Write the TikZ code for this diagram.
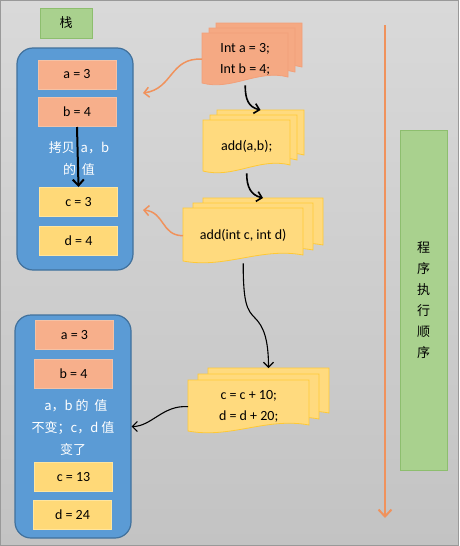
\documentclass[tikz,border=0pt]{standalone}
\usepackage{fontspec}
\setmainfont{Carlito}
\newfontfamily\cjk{Noto Sans CJK SC}
\usetikzlibrary{arrows.meta}

% colors
\definecolor{bgtop}{HTML}{D9D9D9}
\definecolor{bgbot}{HTML}{C3C3C3}
\definecolor{stackblue}{HTML}{5B9BD5}
\definecolor{stackedge}{HTML}{41719C}
\definecolor{salmon}{HTML}{F7AF8B}
\definecolor{salmonedge}{HTML}{F4C2A6}
\definecolor{docorange}{HTML}{F5A983}
\definecolor{docorangeedge}{HTML}{F2A07A}
\definecolor{yel}{HTML}{FFD978}
\definecolor{yeledge}{HTML}{FFE59E}
\definecolor{docyel}{HTML}{FFDA7E}
\definecolor{docyeledge}{HTML}{FFC935}
\definecolor{grn}{HTML}{A9D18E}
\definecolor{grnedge}{HTML}{8DBE6E}
\definecolor{flowor}{HTML}{F0925C}

% stacked document pages: name, x, y, w, h, dx, dy, colour, text
\newcommand{\docstack}[9]{%
  \foreach \i in {2,1,0}{%
    \path[docpage, fill=#8, draw=#8edge]
      ({#2+\i*#6},{#3-\i*#7}) -- ({#2+\i*#6+#4},{#3-\i*#7})
      -- ({#2+\i*#6+#4},{#3-\i*#7+#5-8})
      .. controls ({#2+\i*#6+0.65*#4},{#3-\i*#7+#5-16}) and ({#2+\i*#6+0.35*#4},{#3-\i*#7+#5+6})
      .. ({#2+\i*#6},{#3-\i*#7+#5-2}) -- cycle;
  }%
  \node[doctext, minimum width=#4, minimum height=#5, anchor=north west] (#1) at (#2,#3) {#9};
  \coordinate (#1-back) at ({#2+#4/2+2*#6},{#3-2*#7});
}

\begin{document}
\begin{tikzpicture}[x=1pt, y=-1pt]

% -------------------------------------------------------
% Layout parameters
% -------------------------------------------------------
\def\bw{78}     % width of value boxes
\def\bh{29}     % height of value boxes

\tikzstyle{stackbox} = [rounded corners=16pt, fill=stackblue, draw=stackedge, line width=1.2pt, minimum width=116, minimum height=222];
\tikzstyle{abox} = [fill=salmon, draw=salmonedge, line width=1pt, minimum width=\bw, minimum height=\bh, font=\fontsize{14}{16}\selectfont];
\tikzstyle{cbox} = [fill=yel, draw=yeledge, line width=1pt, minimum width=\bw, minimum height=\bh, font=\fontsize{14}{16}\selectfont];
\tikzstyle{note} = [text=white, align=center, font=\cjk\fontsize{13}{22}\selectfont];
\tikzstyle{docpage} = [line width=0.8pt];
\tikzstyle{doctext} = [inner sep=0pt, align=center, font=\fontsize{14}{21}\selectfont];
\tikzstyle{greenbox} = [fill=grn, draw=grnedge, line width=0.8pt, font=\cjk\fontsize{13}{21}\selectfont];
\tikzstyle{chevron} = [-{Straight Barb[length=5pt, width=10pt]}];

\useasboundingbox (0,0) rectangle (459,546);

%%%%%% BACKGROUND
\path[top color=bgtop, bottom color=bgbot, draw=gray!80] (0.5,0.5) rectangle (458.5,545.5);

%%%%%% STACK (before the call)
\node[greenbox, minimum width=52, minimum height=30] (title) at (66,23) {栈};
\node[stackbox] (stk1) at (75,159) {};
\node[abox] (a1) at (77,74.5) {a = 3};
\node[abox] (b1) at (77,112) {b = 4};
\node[cbox] (c1) at (78.5,202) {c = 3};
\node[cbox] (d1) at (78.5,241) {d = 4};
\node[note] (n1) at (79,159) {拷贝 \ a，b\\的 \ 值};
\draw[line width=2pt, -{Straight Barb[length=6pt, width=11pt]}] (b1.south) -- (c1.north);

%%%%%% STACK (after the call)
\node[stackbox, minimum height=223] (stk2) at (73,426.5) {};
\node[abox] (a2) at (74.5,335) {a = 3};
\node[abox] (b2) at (73.5,374) {b = 4};
\node[cbox] (c2) at (73.5,477) {c = 13};
\node[cbox] (d2) at (72.5,515) {d = 24};
\node[note] (n2) at (73,428) {\ \ a，b 的 \ 值\\不变；c，d 值\\变了};

%%%%%% CODE
\docstack{s1}{202}{33}{86}{52}{7}{5}{docorange}{Int a = 3;\\Int b = 4;}
\docstack{s2}{203}{120}{87}{53}{7}{5}{docyel}{add(a,b);}
\docstack{s3}{183}{208}{120}{55}{10}{5}{docyel}{add(int c, int d)}
\docstack{s4}{188}{380}{121}{53}{10}{6}{docyel}{c = c + 10;\\d = d + 20;}

%%%%%% TRANSITIONS
\coordinate (in1) at (143,93);
\coordinate (in2) at (143,210);
\draw[chevron, flowor, line width=1.5pt] (s1.west) .. controls +(-32,-2) and +(30,-4) .. (in1);
\draw[chevron, flowor, line width=1.5pt] (s3.west) .. controls +(-22,0) and +(22,2) .. (in2);
\draw[chevron, line width=1.6pt] (s1.south) .. controls +(0,14) and +(-12,-3) .. (s2-back);
\draw[chevron, line width=1.6pt] (s2.south) .. controls +(0,14) and +(-12,-3) .. (s3-back);
\draw[chevron, line width=1.1pt] (s3.south) .. controls +(0,40) and +(-8,-8) .. (255,318) .. controls +(8,8) and +(0,-30) .. (s4-back);
\draw[chevron, line width=1.1pt] (s4.west) .. controls +(-25,-2) and +(20,0) .. (stk2.east);

%%%%%% EXECUTION ORDER
\coordinate (tstart) at (385,25);
\coordinate (tend) at (385,518);
\draw[flowor, line width=2pt, -{Straight Barb[length=7pt, width=13pt]}] (tstart) -- (tend);
\node[greenbox, minimum width=47, minimum height=340, align=center] (order) at (423.5,300) {程\\序\\执\\行\\顺\\序};

\end{tikzpicture}
\end{document}
